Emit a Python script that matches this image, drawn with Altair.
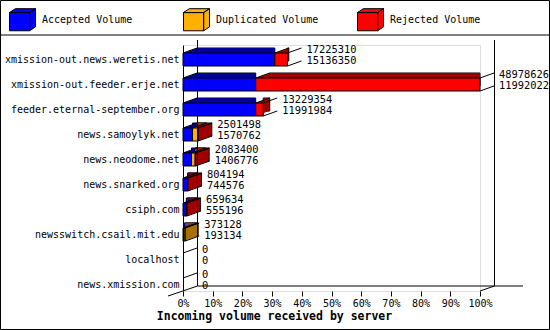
import altair as alt
import pandas as pd

hosts = ["xmission-out.news.weretis.net", "xmission-out.feeder.erje.net",
         "feeder.eternal-september.org", "news.samoylyk.net", "news.neodome.net",
         "news.snarked.org", "csiph.com", "newsswitch.csail.mit.edu",
         "localhost", "news.xmission.com"]
total_volume = [17225310, 48978626, 13229354, 2501498, 2083400, 804194, 659634, 373128, 0, 0]
accepted_volume = [15136350, 11992022, 11991984, 1570762, 1406776, 744576, 555196, 193134, 0, 0]
duplicated_volume = [0, 0, 0, 870000, 600000, 0, 0, 179994, 0, 0]
rejected_volume = [2088960, 36986604, 1237370, 60736, 76624, 59618, 104438, 0, 0, 0]

series = ["Accepted Volume", "Duplicated Volume", "Rejected Volume"]
bright = ["#0000FF", "#FFB000", "#FF0000"]
dark = ["#0000A0", "#A87000", "#A00000"]
x_ticks = [0, 10, 20, 30, 40, 50, 60, 70, 80, 90, 100]

FONT = "DejaVu Sans Mono"
DX, DY = 14, 5
vmax = max(total_volume)

seg_rows, edge_rows, label_rows = [], [], []
for i, h in enumerate(hosts):
    cum = 0.0
    for s, vals, b, d in zip(series, [accepted_volume, duplicated_volume, rejected_volume], bright, dark):
        v = vals[i]
        if v > 0:
            start = cum / vmax * 100
            cum += v
            end = cum / vmax * 100
            seg_rows.append(dict(host=h, series=s, x0=start, x1=end, dark=d))
            edge_rows.append(dict(host=h, px=end))
    edge_rows.append(dict(host=h, px=0.0))
    label_rows.append(dict(host=h, px=total_volume[i] / vmax * 100,
                           t1=str(total_volume[i]), t2=str(accepted_volume[i]),
                           nonzero=total_volume[i] > 0))

segs = pd.DataFrame(seg_rows)
edges = pd.DataFrame(edge_rows)
labels = pd.DataFrame(label_rows)

xscale = alt.Scale(domain=[0, 100], nice=False, zero=True)
yscale = alt.Scale(domain=hosts, paddingInner=0.48, paddingOuter=0.16, align=1.0)

xaxis = alt.Axis(values=x_ticks, labelExpr="datum.value + '%'", domain=False,
                 grid=False, tickSize=5, tickColor="black", labelColor="black",
                 labelFont=FONT, labelFontSize=10, labelPadding=2,
                 labelOverlap=False, labelFlush=False,
                 title="Incoming volume received by server", titleFont=FONT,
                 titleFontSize=11.5, titleFontWeight="bold", titleColor="black",
                 titleX=91, titleY=25, titleAlign="center", titleAnchor="start",
                 titleBaseline="middle")
yaxis = alt.Axis(title=None, ticks=False, domain=True, domainColor="black",
                 domainWidth=1, labelFont=FONT, labelFontSize=10,
                 labelColor="black", labelPadding=4, labelLimit=300)


def xenc(field):
    return alt.X(field, scale=xscale, axis=xaxis)


def yenc(bp=None):
    if bp is None:
        return alt.Y("host:N", scale=yscale, sort=hosts, axis=yaxis)
    return alt.Y("host:N", scale=yscale, sort=hosts, axis=yaxis, bandPosition=bp)


cube = ("M-1,-0.55L0.55,-0.55L0.55,0.85L-1,0.85Z"
        "M-1,-0.55L-0.55,-0.85L1,-0.85L0.55,-0.55Z"
        "M0.55,-0.55L1,-0.85L1,0.55L0.55,0.85Z")

layers = []
# extruded depth (back layers)
for k in range(DX, 0, -1):
    kw = dict(xOffset=k, yOffset=-k * DY / DX)
    if k == DX:
        kw.update(stroke="black", strokeWidth=1)
    else:
        kw.update(strokeWidth=0)
    layers.append(
        alt.Chart(segs).mark_bar(**kw).encode(
            x=xenc("x0:Q"), x2="x1:Q", y=yenc(),
            fill=alt.Fill("dark:N", scale=None),
        )
    )
# front faces
layers.append(
    alt.Chart(segs).mark_bar(stroke="black", strokeWidth=1).encode(
        x=xenc("x0:Q"), x2="x1:Q", y=yenc(),
        color=alt.Color("series:N", scale=alt.Scale(domain=series, range=bright),
                        legend=alt.Legend(title=None, orient="none", legendX=-174,
                                          legendY=-39, direction="horizontal",
                                          columns=3, gridAlign="all", columnPadding=36,
                                          symbolType=cube, symbolSize=676,
                                          symbolStrokeColor="black", symbolStrokeWidth=1,
                                          symbolOpacity=1, labelFont=FONT,
                                          labelFontSize=10, labelColor="black",
                                          labelOffset=6, labelLimit=300)),
    )
)
# slanted top edges
layers.append(
    alt.Chart(edges).mark_rule(color="black", strokeWidth=1, x2Offset=DX, y2Offset=-DY).encode(
        x=xenc("px:Q"), x2="px:Q",
        y=yenc(0), y2=alt.Y2("host:N", bandPosition=0),
    )
)
# slanted bottom-right edges
layers.append(
    alt.Chart(labels[labels.nonzero]).mark_rule(color="black", strokeWidth=1, x2Offset=DX, y2Offset=-DY).encode(
        x=xenc("px:Q"), x2="px:Q",
        y=yenc(1), y2=alt.Y2("host:N", bandPosition=1),
    )
)
# value labels
for col, dy in (("t1", -10), ("t2", 1)):
    layers.append(
        alt.Chart(labels).mark_text(align="left", baseline="middle", dx=19, dy=dy,
                                    font=FONT, fontSize=10.4, color="black").encode(
            x=xenc("px:Q"), y=yenc(),
            text=f"{col}:N",
        )
    )

# frame decoration (3D box walls, legend separator, border)
one = alt.Data(values=[{"a": 1}])


def line(x, y, x2, y2):
    return alt.Chart(one).mark_rule(color="black", strokeWidth=1).encode(
        x=alt.value(x), y=alt.value(y), x2=alt.value(x2), y2=alt.value(y2))


layers += [
    line(14.5, -5, 14.5, 241),      # back wall
    line(311.5, -5, 311.5, 241),    # right back wall
    line(14.5, 241, 340, 241),      # back floor
    line(-15, 251, 14.5, 241),      # left floor slant
    line(297, 246, 311.5, 241),     # right floor slant
    line(-183, -10, 367, -10),      # legend separator
    alt.Chart(one).mark_rect(fillOpacity=0, stroke="black", strokeWidth=1).encode(
        x=alt.value(-182.5), x2=alt.value(366.5), y=alt.value(-44.5), y2=alt.value(284.5)),
]

chart = alt.layer(*layers).properties(
    width=297, height=246,
    autosize=alt.AutoSizeParams(type="none"),
    padding={"left": 183, "top": 45, "right": 70, "bottom": 39},
    background="white",
).configure_view(stroke=None).configure(font=FONT)

chart.save("out.html", embed_options={"renderer": "svg", "actions": False})
